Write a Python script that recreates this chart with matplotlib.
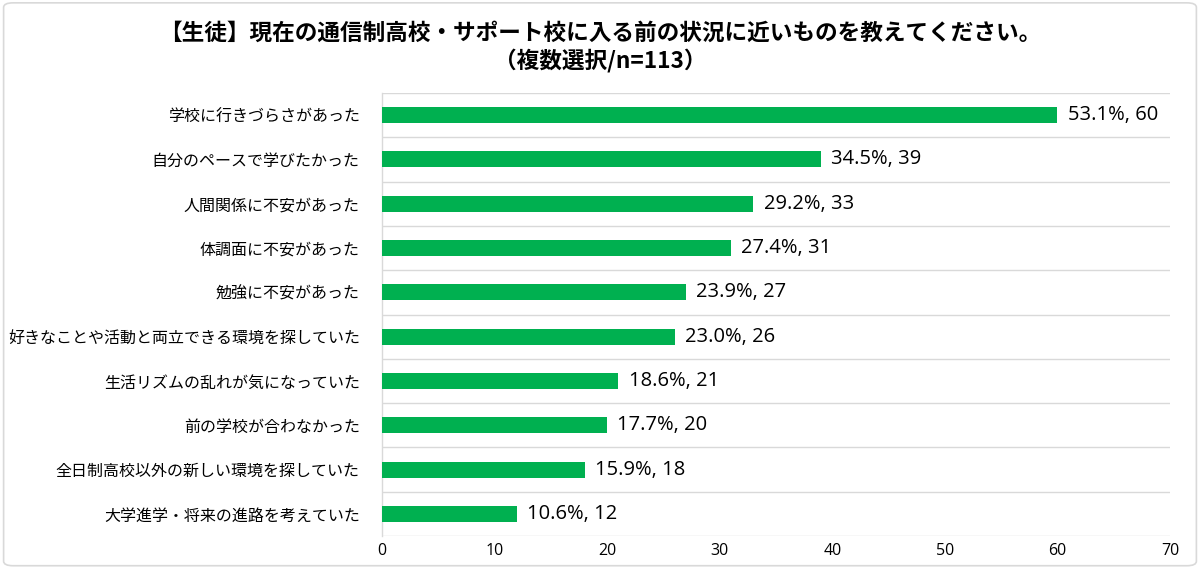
import matplotlib
matplotlib.use("Agg")
import matplotlib.pyplot as plt
from matplotlib.patches import FancyBboxPatch

plt.rcParams['font.family'] = ['Noto Sans CJK JP', 'DejaVu Sans']

categories = [
    "学校に行きづらさがあった",
    "自分のペースで学びたかった",
    "人間関係に不安があった",
    "体調面に不安があった",
    "勉強に不安があった",
    "好きなことや活動と両立できる環境を探していた",
    "生活リズムの乱れが気になっていた",
    "前の学校が合わなかった",
    "全日制高校以外の新しい環境を探していた",
    "大学進学・将来の進路を考えていた",
]
counts = [60, 39, 33, 31, 27, 26, 21, 20, 18, 12]
percents = [53.1, 34.5, 29.2, 27.4, 23.9, 23.0, 18.6, 17.7, 15.9, 10.6]
xticks = [0, 10, 20, 30, 40, 50, 60, 70]
title = "【生徒】現在の通信制高校・サポート校に入る前の状況に近いものを教えてください。\n（複数選択/n=113）"

latin = ['Open Sans', 'Noto Sans CJK JP']

fig = plt.figure(figsize=(12, 5.68), dpi=100)
border = FancyBboxPatch((0.003, 0.004), 0.994, 0.991, boxstyle="round,pad=0,rounding_size=0.008",
                        transform=fig.transFigure, fill=False, edgecolor="#d9d9d9", linewidth=1.2)
fig.patches.append(border)

ax = fig.add_axes([382/1200, 1-536/568, (1170-382)/1200, (536-93)/568])
n = len(categories)
ypos = list(range(n))
ax.barh(ypos, counts, height=0.36, color="#00B050", zorder=3)
ax.set_ylim(n - 0.5, -0.5)
ax.set_xlim(0, 70)
ax.set_xticks(xticks)
ax.set_xticklabels([str(t) for t in xticks], fontsize=11.5, color="#000000", family=latin)
ax.set_yticks(ypos)
ax.set_yticklabels(categories, fontsize=11.5, color="#000000")
ax.tick_params(axis='both', length=0)
ax.tick_params(axis='y', pad=16)
ax.tick_params(axis='x', pad=5)

for b in [i - 0.5 for i in range(n + 1)]:
    ax.axhline(b, color="#d9d9d9", linewidth=1.0, zorder=1)
for s in ['top', 'right', 'bottom']:
    ax.spines[s].set_visible(False)
ax.spines['left'].set_color("#d9d9d9")
ax.spines['left'].set_linewidth(1.0)

for y, c, p in zip(ypos, counts, percents):
    ax.text(c + 0.9, y, f"{p:.1f}%, {c}", va='center', ha='left', fontsize=14.5, color="#000000",
            family=latin)

fig.text(0.5, 0.962, title, ha='center', va='top', fontsize=16.3, fontweight='bold',
         linespacing=1.2, color="#000000")

fig.savefig("out.png", dpi=100)
